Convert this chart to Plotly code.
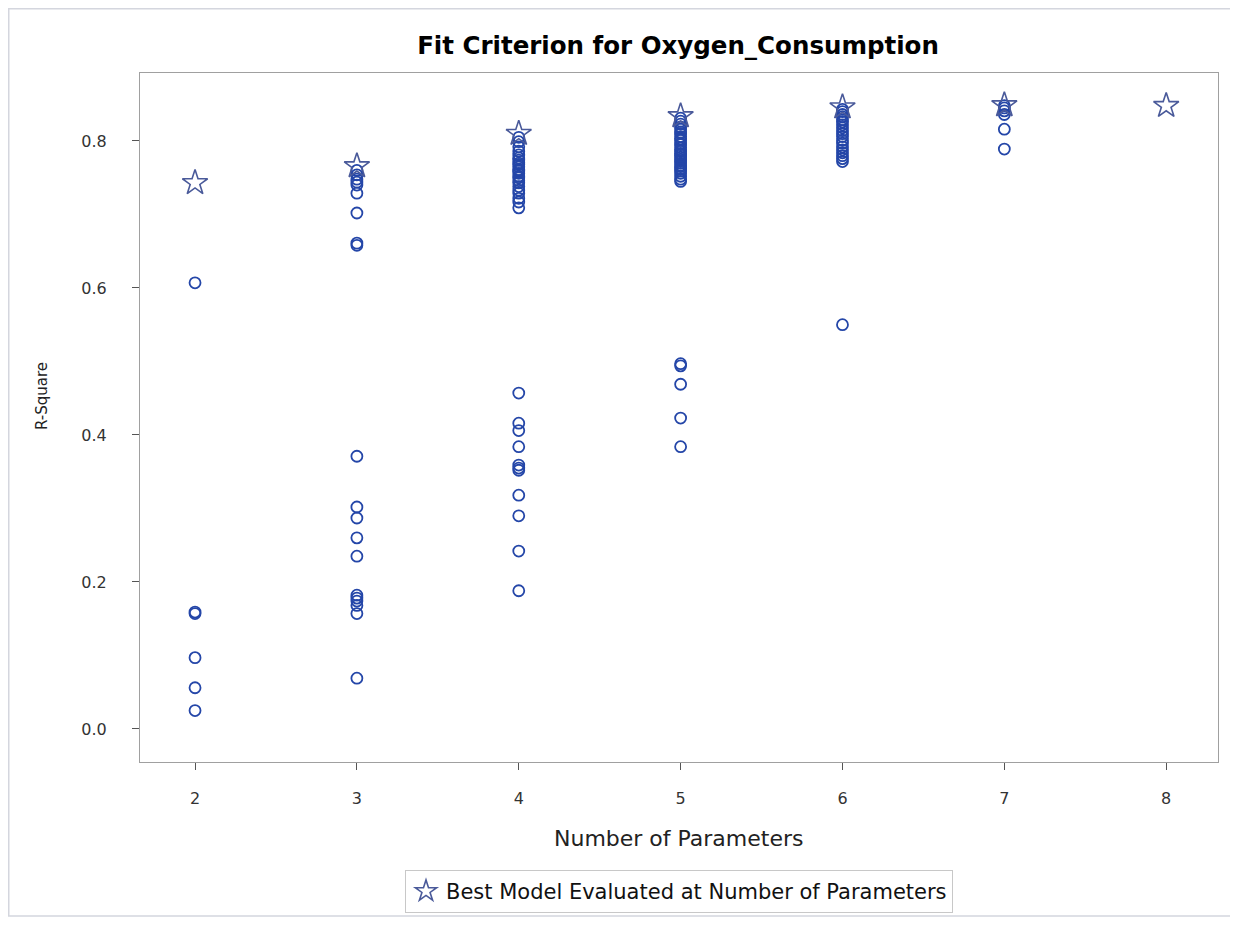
import plotly.graph_objects as go

# ---- data ----
num_params_best = [2, 3, 4, 5, 6, 7, 8]
rsq_best = [0.743, 0.766, 0.810, 0.834, 0.846, 0.849, 0.848]

rsq_p2 = [0.607, 0.159, 0.157, 0.097, 0.056, 0.025]
rsq_p3 = [0.760, 0.754, 0.748, 0.744, 0.740, 0.729, 0.702, 0.661, 0.658,
          0.371, 0.302, 0.287, 0.260, 0.235, 0.182, 0.178, 0.174, 0.168, 0.157, 0.069]
rsq_p4 = [0.805, 0.799, 0.792, 0.786, 0.781, 0.777, 0.774, 0.770, 0.768, 0.765,
          0.761, 0.759, 0.756, 0.752, 0.750, 0.746, 0.743, 0.738, 0.733, 0.729,
          0.722, 0.717, 0.709,
          0.457, 0.416, 0.406, 0.384, 0.359, 0.355, 0.352, 0.318, 0.290, 0.242, 0.188]
rsq_p5 = [0.831, 0.827, 0.823, 0.819, 0.816, 0.812, 0.810, 0.806, 0.803, 0.801,
          0.797, 0.795, 0.791, 0.788, 0.786, 0.783, 0.781, 0.778, 0.775, 0.773,
          0.770, 0.767, 0.765, 0.762, 0.759, 0.756, 0.752, 0.748, 0.745,
          0.497, 0.494, 0.469, 0.423, 0.384]
rsq_p6 = [0.843, 0.840, 0.836, 0.833, 0.829, 0.826, 0.822, 0.818, 0.814, 0.810,
          0.806, 0.801, 0.797, 0.792, 0.788, 0.784, 0.780, 0.776, 0.772,
          0.550]
rsq_p7 = [0.848, 0.845, 0.841, 0.836, 0.816, 0.789]

all_groups = {2: rsq_p2, 3: rsq_p3, 4: rsq_p4, 5: rsq_p5, 6: rsq_p6, 7: rsq_p7}

x_tick_vals = [2, 3, 4, 5, 6, 7, 8]
y_tick_vals = [0.0, 0.2, 0.4, 0.6, 0.8]
y_tick_text = ["0.0", "0.2", "0.4", "0.6", "0.8"]

circle_x, circle_y = [], []
for k, vals in all_groups.items():
    circle_x += [k] * len(vals)
    circle_y += vals

FONT = "DejaVu Sans, Arial, sans-serif"

fig = go.Figure()
fig.add_trace(go.Scatter(
    x=circle_x, y=circle_y, mode="markers", showlegend=False,
    marker=dict(symbol="circle-open", size=11, color="#2446A8",
                line=dict(width=1.8, color="#2446A8")),
))
fig.add_trace(go.Scatter(
    x=num_params_best, y=rsq_best, mode="markers",
    name="Best Model Evaluated at Number of Parameters",
    marker=dict(symbol="star-open", size=19, color="#4A5A9A",
                line=dict(width=1.6, color="#4A5A9A")),
))

# page body has an 8px margin; figure sized/offset to compensate
OFF = 8
L, R, T = 140 - OFF, 12, 73 - OFF
W, H = 1222, 909
ph = 762 - 73
pw = W - L - R
B = H - T - ph


def py(screen_y):
    """paper y from screen y"""
    return 1 - ((screen_y - OFF) - T) / ph


def px(screen_x):
    return ((screen_x - OFF) - L) / pw


fig.update_layout(
    width=W, height=H,
    margin=dict(l=L, r=R, t=T, b=B, autoexpand=False),
    paper_bgcolor="white", plot_bgcolor="white",
    font=dict(family=FONT, color="#222", size=16),
    title=dict(text="<b>Fit Criterion for Oxygen_Consumption</b>",
               x=(678 - OFF) / W, xanchor="center", y=1 - (45 - OFF) / H, yanchor="middle",
               font=dict(size=24.5, color="#000", family=FONT)),
    xaxis=dict(range=[1.66, 8.32], tickvals=x_tick_vals, ticks="outside",
               ticklen=7, tickcolor="#555", showgrid=False, zeroline=False,
               showline=True, linecolor="#a0a0a0", linewidth=1, mirror=True,
               ticklabelstandoff=15, automargin=False,
               tickfont=dict(size=16, color="#333")),
    yaxis=dict(range=[-0.045, 0.8925], tickvals=y_tick_vals, ticktext=y_tick_text,
               ticks="outside", ticklen=7, tickcolor="#555", showgrid=False,
               zeroline=False, showline=True, linecolor="#a0a0a0", linewidth=1,
               mirror=True, ticklabelstandoff=22, automargin=False,
               tickfont=dict(size=16, color="#333")),
    showlegend=True,
    legend=dict(orientation="h", x=0.5, xanchor="center",
                y=py(870), yanchor="top",
                bordercolor="#c8c8c8", borderwidth=1, bgcolor="white",
                font=dict(size=21, color="#111", family=FONT)),
    annotations=[
        dict(text="Number of Parameters", xref="paper", yref="paper",
             x=0.5, y=py(838), xanchor="center", yanchor="middle",
             showarrow=False, font=dict(size=22, color="#222", family=FONT)),
        dict(text="R-Square", xref="paper", yref="paper", textangle=-90,
             x=px(42), y=py(396), xanchor="center", yanchor="middle",
             showarrow=False, font=dict(size=15, color="#222", family=FONT)),
    ],
)

# outer frame of the graphic
fig.add_shape(type="rect", xref="paper", yref="paper",
              x0=(0.75 - L) / pw, x1=(W + 20 - L) / pw,
              y0=1 - (H - 1 - T) / ph, y1=1 + (T - 0.75) / ph,
              line=dict(color="#d4d6de", width=1.5), fillcolor="rgba(0,0,0,0)",
              layer="below")

fig.write_html("out.html")
